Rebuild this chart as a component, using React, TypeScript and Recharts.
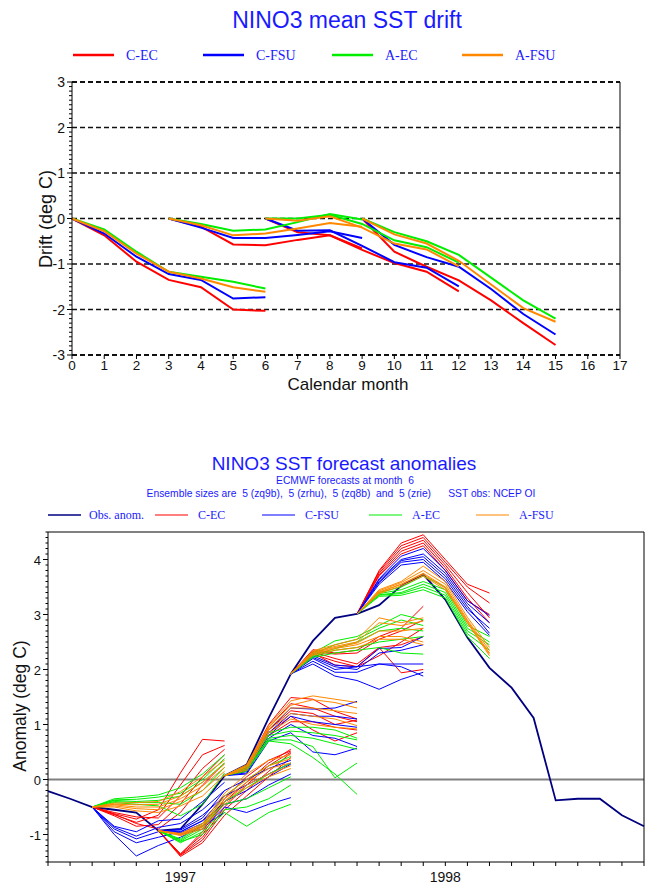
import React from "react";
import { LineChart, Line, XAxis, YAxis, ReferenceLine } from "recharts";

const SANS = '"Liberation Sans", Arial, Helvetica, sans-serif';
const SERIF = '"Liberation Serif", "Times New Roman", serif';
const TEXT_BLUE = "#1a1aff";

// ---------- top panel: NINO3 mean SST drift ----------
const driftMonths = [0, 1, 2, 3, 4, 5, 6, 7, 8, 9, 10, 11, 12, 13, 14, 15, 16, 17];
const driftGrid = [-3, -2, -1, 0, 1, 2, 3];
const driftStarts = [0, 3, 6, 9];

// one row per start month, values at lead 0..6
const driftCEC = [
  [0, -0.37, -0.95, -1.35, -1.51, -2.0, -2.03],
  [0, -0.18, -0.57, -0.59, -0.47, -0.37, -0.66],
  [0, -0.3, -0.37, -0.69, -0.98, -1.17, -1.6],
  [0, -0.73, -1.06, -1.36, -1.8, -2.3, -2.78],
];
const driftCFSU = [
  [0, -0.33, -0.84, -1.22, -1.35, -1.76, -1.73],
  [0, -0.2, -0.43, -0.43, -0.36, -0.28, -0.43],
  [0, -0.27, -0.26, -0.6, -0.96, -1.08, -1.49],
  [0, -0.58, -0.85, -1.06, -1.55, -2.1, -2.55],
];
const driftAEC = [
  [0, -0.24, -0.73, -1.17, -1.28, -1.39, -1.54],
  [0, -0.12, -0.27, -0.24, -0.08, 0.1, -0.02],
  [0, 0.0, 0.08, -0.12, -0.48, -0.63, -0.97],
  [0, -0.3, -0.5, -0.8, -1.3, -1.8, -2.2],
];
const driftAFSU = [
  [0, -0.28, -0.77, -1.17, -1.32, -1.51, -1.61],
  [0, -0.15, -0.37, -0.33, -0.22, -0.1, -0.18],
  [0, -0.05, 0.05, -0.2, -0.55, -0.68, -1.05],
  [0, -0.35, -0.55, -0.93, -1.45, -1.97, -2.27],
];

// ---------- bottom panel: NINO3 SST forecast anomalies ----------
// month index 0 = Jul 1996 ... 27 = Oct 1998
const anomMonths = [0, 1, 2, 3, 4, 5, 6, 7, 8, 9, 10, 11, 12, 13, 14, 15, 16, 17, 18, 19, 20, 21, 22, 23, 24, 25, 26, 27];
const yearTickIdx = [6, 18];
const yearLabels = ["1997", "1998"];
const anomYLabels = [-1, 0, 1, 2, 3, 4];

const obsAnom = [
  -0.21, -0.35, -0.5, -0.55, -0.6, -0.93, -0.9, -0.45, 0.07, 0.27, 1.12, 1.92, 2.52, 2.94,
  3.01, 3.17, 3.52, 3.73, 3.27, 2.58, 2.03, 1.67, 1.12, -0.38, -0.35, -0.35, -0.65, -0.85,
];

const fcStarts = [2, 5, 8, 11, 14];

// [start][member] -> values at lead 1..6 (lead 0 is the observed value)
const fcCEC = [
  [[-0.62, -0.72, -0.55, 0.12, 0.73, 0.7], [-0.64, -0.78, -0.65, -0.1, 0.45, 0.62], [-0.6, -0.68, -0.7, -0.3, 0.2, 0.55], [-0.66, -0.85, -0.82, -0.45, 0.05, 0.45], [-0.63, -0.8, -0.9, -0.6, -0.1, 0.3]],
  [[-1.35, -1.0, -0.4, -0.05, 0.3, 0.55], [-1.37, -1.05, -0.5, -0.1, 0.25, 0.5], [-1.38, -1.1, -0.55, -0.2, 0.15, 0.48], [-1.4, -1.15, -0.65, -0.3, 0.05, 0.4], [-1.36, -0.95, -0.35, 0.05, 0.35, 0.52]],
  [[0.25, 1.0, 1.49, 1.46, 1.24, 1.1], [0.22, 0.95, 1.38, 1.3, 1.15, 1.05], [0.2, 0.9, 1.25, 1.2, 1.0, 1.08], [0.18, 0.85, 1.15, 0.9, 0.7, 0.85], [0.15, 0.8, 1.05, 1.05, 0.95, 0.9]],
  [[2.36, 2.3, 2.35, 2.6, 2.75, 3.15], [2.33, 2.28, 2.3, 2.55, 2.7, 2.9], [2.3, 2.08, 2.05, 2.25, 2.5, 2.75], [2.28, 2.15, 2.05, 2.4, 2.45, 2.6], [2.32, 2.2, 2.1, 2.4, 1.94, 2.0]],
  [[3.8, 4.3, 4.45, 4.0, 3.55, 3.39], [3.78, 4.25, 4.4, 3.95, 3.5, 3.21], [3.75, 4.2, 4.35, 3.9, 3.4, 2.94], [3.72, 4.15, 4.3, 3.85, 3.3, 2.85], [3.7, 4.1, 4.25, 3.8, 3.25, 3.0]],
];
const fcCFSU = [
  [[-0.85, -0.95, -0.75, -0.72, -0.4, -0.05], [-0.87, -1.03, -0.87, -0.8, -0.55, -0.2], [-0.9, -1.08, -0.95, -0.9, -0.65, -0.3], [-0.95, -1.15, -1.05, -0.95, -0.75, -0.45], [-1.0, -1.39, -1.2, -1.05, -0.85, -0.6]],
  [[-0.92, -0.7, -0.2, 0.0, 0.2, 0.35], [-0.95, -0.75, -0.3, -0.1, 0.1, 0.3], [-0.97, -0.8, -0.4, -0.2, 0.05, 0.28], [-1.0, -0.85, -0.45, -0.35, -0.1, 0.1], [-1.0, -0.9, -0.5, -0.6, -0.45, -0.33]],
  [[0.2, 0.9, 1.3, 1.28, 1.3, 1.42], [0.18, 0.85, 1.2, 1.15, 1.15, 1.1], [0.15, 0.8, 1.15, 1.05, 1.0, 0.95], [0.12, 0.75, 1.0, 0.8, 0.75, 0.6], [0.1, 0.7, 0.85, 0.5, 0.45, 0.57]],
  [[2.25, 2.08, 2.05, 2.38, 2.4, 2.6], [2.22, 2.05, 2.0, 2.3, 2.35, 2.45], [2.2, 2.0, 2.05, 2.1, 2.1, 2.1], [2.15, 1.95, 1.95, 2.1, 2.05, 1.88], [2.1, 1.88, 1.8, 1.64, 1.82, 1.95]],
  [[3.65, 4.06, 4.2, 3.8, 3.25, 2.98], [3.63, 4.0, 4.1, 3.75, 3.2, 2.85], [3.6, 3.98, 4.05, 3.7, 3.15, 2.66], [3.58, 3.95, 4.0, 3.65, 3.1, 2.75], [3.55, 3.9, 3.95, 3.6, 3.05, 2.62]],
];
const fcAEC = [
  [[-0.35, -0.32, -0.28, -0.15, 0.1, 0.45], [-0.37, -0.36, -0.32, -0.25, 0.0, 0.38], [-0.38, -0.4, -0.38, -0.3, -0.05, 0.3], [-0.4, -0.42, -0.42, -0.45, -0.2, 0.22], [-0.42, -0.45, -0.48, -0.66, -0.45, 0.12]],
  [[-1.1, -0.85, -0.3, 0.0, 0.25, 0.42], [-1.12, -0.9, -0.4, -0.15, 0.1, 0.3], [-1.08, -0.8, -0.45, -0.35, -0.15, 0.05], [-1.15, -0.95, -0.55, -0.5, -0.35, -0.1], [-1.13, -1.0, -0.6, -0.85, -0.6, -0.45]],
  [[0.25, 0.85, 0.95, 0.95, 0.9, 0.75], [0.22, 0.8, 0.88, 0.85, 0.8, 0.72], [0.2, 0.75, 0.8, 0.75, 0.65, 0.55], [0.18, 0.72, 0.72, 0.6, 0.03, 0.3], [0.15, 0.7, 0.65, 0.4, 0.1, -0.27]],
  [[2.3, 2.52, 2.6, 2.8, 3.0, 2.9], [2.28, 2.45, 2.55, 2.75, 2.9, 2.8], [2.26, 2.38, 2.5, 2.7, 2.75, 2.7], [2.24, 2.35, 2.4, 2.5, 2.55, 2.6], [2.22, 2.3, 2.35, 2.4, 2.3, 2.28]],
  [[3.4, 3.5, 3.7, 3.5, 2.8, 2.6], [3.38, 3.45, 3.6, 3.45, 2.75, 2.5], [3.36, 3.4, 3.55, 3.4, 2.7, 2.45], [3.35, 3.38, 3.5, 3.35, 2.65, 2.35], [3.33, 3.35, 3.45, 3.3, 2.6, 2.2]],
];
const fcAFSU = [
  [[-0.43, -0.42, -0.4, -0.22, 0.05, 0.35], [-0.45, -0.46, -0.45, -0.3, -0.05, 0.28], [-0.46, -0.5, -0.5, -0.35, -0.12, 0.22], [-0.48, -0.53, -0.55, -0.4, -0.2, 0.15], [-0.5, -0.57, -0.6, -0.48, -0.3, 0.08]],
  [[-0.98, -0.8, -0.25, 0.1, 0.35, 0.45], [-0.99, -0.83, -0.3, 0.0, 0.25, 0.38], [-1.0, -0.85, -0.35, -0.05, 0.2, 0.3], [-1.01, -0.87, -0.4, -0.1, 0.1, 0.25], [-1.02, -0.9, -0.45, -0.15, 0.05, 0.2]],
  [[0.27, 0.98, 1.43, 1.52, 1.46, 1.4], [0.25, 0.95, 1.35, 1.45, 1.4, 1.3], [0.23, 0.92, 1.3, 1.3, 1.25, 1.2], [0.2, 0.9, 1.2, 1.15, 1.1, 0.98], [0.17, 0.85, 1.1, 1.0, 0.95, 0.92]],
  [[2.34, 2.45, 2.55, 2.94, 2.85, 2.94], [2.32, 2.42, 2.5, 2.85, 2.8, 2.88], [2.3, 2.4, 2.48, 2.7, 2.7, 2.75], [2.28, 2.38, 2.45, 2.6, 2.6, 2.5], [2.26, 2.35, 2.4, 2.55, 2.55, 2.45]],
  [[3.45, 3.6, 3.88, 3.6, 2.95, 2.4], [3.43, 3.58, 3.8, 3.55, 2.9, 2.35], [3.41, 3.55, 3.75, 3.5, 2.88, 2.3], [3.4, 3.55, 3.73, 3.48, 2.85, 2.28], [3.38, 3.52, 3.7, 3.45, 2.85, 2.25]],
];

const models = [
  { key: "cec", name: "C-EC", color: "#ff0000", drift: driftCEC, fc: fcCEC },
  { key: "cfsu", name: "C-FSU", color: "#0000ff", drift: driftCFSU, fc: fcCFSU },
  { key: "aec", name: "A-EC", color: "#00ee00", drift: driftAEC, fc: fcAEC },
  { key: "afsu", name: "A-FSU", color: "#ff8800", drift: driftAFSU, fc: fcAFSU },
];
const OBS_COLOR = "#000080";

// ---------- tables for recharts ----------
const driftRows = driftMonths.map((m) => {
  const row: Record<string, number> = { m };
  models.forEach((md) =>
    driftStarts.forEach((s, j) => {
      const i = m - s;
      if (i >= 0 && i < md.drift[j].length) row[`${md.key}${s}`] = md.drift[j][i];
    })
  );
  return row;
});

const anomRows = anomMonths.map((m) => {
  const row: Record<string, number> = { m, obs: obsAnom[m] };
  models.forEach((md) =>
    fcStarts.forEach((s, j) => {
      md.fc[j].forEach((member, k) => {
        const lead = m - s;
        if (lead === 0) row[`${md.key}_${j}_${k}`] = obsAnom[s];
        else if (lead > 0 && lead <= member.length) row[`${md.key}_${j}_${k}`] = member[lead - 1];
      });
    })
  );
  return row;
});

// minor ticks every 0.1
function tenths(lo: number, hi: number) {
  const out: number[] = [];
  for (let k = Math.round(lo * 10); k <= Math.round(hi * 10); k++) out.push(k / 10);
  return out;
}
const isMajor = (v: number) => Math.abs(v - Math.round(v)) < 1e-6;

// ---------- geometry ----------
const TOP_H = 400;
const D_LEFT = 72;
const D_BOTTOM = 355;

const BOT_TOP = 500;
const BOT_H = 388;
const A_LEFT = 48;
const A_RIGHT = 644;
const A_BOTTOM = 362; // chart coords

function DriftYTick(props: any) {
  const { y, payload } = props;
  const v = payload.value;
  const major = isMajor(v);
  return (
    <g>
      <line x1={D_LEFT - (major ? 5 : 3)} x2={D_LEFT} y1={y} y2={y} stroke="#000" />
      {major && (
        <text x={D_LEFT - 7} y={y + 5} textAnchor="end" fontSize={14} fontFamily={SANS} fill="#111">
          {Math.round(v)}
        </text>
      )}
    </g>
  );
}

function DriftXTick(props: any) {
  const { x, payload } = props;
  return (
    <g>
      <line x1={x} x2={x} y1={D_BOTTOM} y2={D_BOTTOM + 4} stroke="#000" />
      <text x={x} y={D_BOTTOM + 15} textAnchor="middle" fontSize={13.5} fontFamily={SANS} fill="#111">
        {payload.value}
      </text>
    </g>
  );
}

function AnomLeftTick(props: any) {
  const { y, payload } = props;
  const v = payload.value;
  const major = isMajor(v);
  return (
    <g>
      <line x1={A_LEFT - (major ? 5 : 2.5)} x2={A_LEFT} y1={y} y2={y} stroke="#000" />
      {major && anomYLabels.includes(Math.round(v)) && (
        <text x={A_LEFT - 7} y={y + 5} textAnchor="end" fontSize={13} fontFamily={SANS} fill="#111">
          {Math.round(v)}
        </text>
      )}
    </g>
  );
}

function AnomRightTick(props: any) {
  const { y, payload } = props;
  const v = payload.value;
  const major = isMajor(v);
  return (
    <g>
      <line x1={A_RIGHT} x2={A_RIGHT + (major ? 4 : 2.5)} y1={y} y2={y} stroke="#000" />
      {major && anomYLabels.includes(Math.round(v)) && (
        <text x={A_RIGHT + 5} y={y + 5} textAnchor="start" fontSize={13} fontFamily={SANS} fill="#111">
          {Math.round(v)}
        </text>
      )}
    </g>
  );
}

function AnomXTick(props: any) {
  const { x, payload } = props;
  const yi = yearTickIdx.indexOf(payload.value);
  return (
    <g>
      <line x1={x} x2={x} y1={A_BOTTOM} y2={A_BOTTOM + 4} stroke="#000" />
      {yi >= 0 && (
        <text x={x} y={A_BOTTOM + 20} textAnchor="middle" fontSize={14} fontFamily={SANS} fill="#111">
          {yearLabels[yi]}
        </text>
      )}
    </g>
  );
}

function DriftChart() {
  return (
    <LineChart
      width={661}
      height={TOP_H}
      data={driftRows}
      margin={{ top: 82, right: 41, left: 42, bottom: 15 }}
    >
      <XAxis
        type="number"
        dataKey="m"
        domain={[0, 17]}
        ticks={driftMonths}
        interval={0}
        tickLine={false}
        axisLine={false}
        tick={DriftXTick}
        height={30}
      />
      <YAxis
        type="number"
        domain={[-3, 3]}
        ticks={tenths(-3, 3)}
        interval={0}
        tickLine={false}
        axisLine={{ stroke: "#000" }}
        tick={DriftYTick}
        width={30}
      />
      {driftGrid.map((g) => (
        <ReferenceLine
          key={`g${g}`}
          y={g}
          stroke="#111"
          strokeWidth={Math.abs(g) === 3 ? 2 : 1.3}
          strokeDasharray="5 3"
        />
      ))}
      <ReferenceLine x={17} stroke="#000" strokeWidth={1} />
      {models.map((md) =>
        driftStarts.map((s) => (
          <Line
            key={`${md.key}${s}`}
            type="linear"
            dataKey={`${md.key}${s}`}
            stroke={md.color}
            strokeWidth={2}
            dot={false}
            activeDot={false}
            isAnimationActive={false}
          />
        ))
      )}
    </LineChart>
  );
}

function AnomalyChart() {
  return (
    <LineChart
      width={661}
      height={BOT_H}
      data={anomRows}
      margin={{ top: 32, right: 0, left: 18, bottom: 4 }}
    >
      <XAxis
        type="number"
        dataKey="m"
        domain={[0, 27]}
        ticks={anomMonths}
        interval={0}
        tickLine={false}
        axisLine={{ stroke: "#000" }}
        tick={AnomXTick}
        height={22}
      />
      <YAxis
        yAxisId="l"
        type="number"
        domain={[-1.5, 4.5]}
        ticks={tenths(-1.5, 4.5)}
        interval={0}
        tickLine={false}
        axisLine={{ stroke: "#000" }}
        tick={AnomLeftTick}
        width={30}
      />
      <YAxis
        yAxisId="r"
        orientation="right"
        type="number"
        domain={[-1.5, 4.5]}
        ticks={tenths(-1.5, 4.5)}
        interval={0}
        tickLine={false}
        axisLine={{ stroke: "#000" }}
        tick={AnomRightTick}
        width={17}
      />
      <ReferenceLine yAxisId="l" y={4.5} stroke="#808080" strokeWidth={2} />
      <ReferenceLine yAxisId="l" y={0} stroke="#808080" strokeWidth={2} />
      <Line
        yAxisId="l"
        type="linear"
        dataKey="obs"
        stroke={OBS_COLOR}
        strokeWidth={1.8}
        dot={false}
        activeDot={false}
        isAnimationActive={false}
      />
      {models.map((md) =>
        fcStarts.map((s, j) =>
          md.fc[j].map((_, k) => (
            <Line
              key={`${md.key}_${j}_${k}`}
              yAxisId="l"
              type="linear"
              dataKey={`${md.key}_${j}_${k}`}
              stroke={md.color}
              strokeWidth={1}
              dot={false}
              activeDot={false}
              isAnimationActive={false}
            />
          ))
        )
      )}
    </LineChart>
  );
}

function Overlay() {
  const topLegendX = [73, 203, 332, 462];
  const botLegendX = [155, 262, 369, 476];
  return (
    <svg
      width={661}
      height={888}
      style={{ position: "absolute", left: 0, top: 0, pointerEvents: "none" }}
    >
      {/* top panel */}
      <text x={347} y={28} textAnchor="middle" fontSize={23} fontFamily={SANS} fill={TEXT_BLUE}>
        NINO3 mean SST drift
      </text>
      {models.map((md, i) => (
        <g key={md.key}>
          <line x1={topLegendX[i]} x2={topLegendX[i] + 41} y1={55} y2={55} stroke={md.color} strokeWidth={2.5} />
          <text x={topLegendX[i] + 53} y={60} fontSize={14} fontFamily={SERIF} fill={TEXT_BLUE}>
            {md.name}
          </text>
        </g>
      ))}
      <text
        transform="translate(52,219) rotate(-90)"
        textAnchor="middle"
        fontSize={18}
        fontFamily={SANS}
        fill="#111"
      >
        Drift (deg C)
      </text>
      <text x={348} y={390} textAnchor="middle" fontSize={17} fontFamily={SANS} fill="#111">
        Calendar month
      </text>

      {/* bottom panel */}
      <text x={344} y={470} textAnchor="middle" fontSize={19} fontFamily={SANS} fill={TEXT_BLUE}>
        NINO3 SST forecast anomalies
      </text>
      <text x={345} y={484} textAnchor="middle" fontSize={10.3} fontFamily={SANS} fill={TEXT_BLUE} style={{ whiteSpace: "pre" }}>
        {"ECMWF forecasts at month  6"}
      </text>
      <text x={341} y={497} textAnchor="middle" fontSize={10.3} fontFamily={SANS} fill={TEXT_BLUE} style={{ whiteSpace: "pre" }}>
        {"Ensemble sizes are  5 (zq9b),  5 (zrhu),  5 (zq8b)  and  5 (zrie)      SST obs: NCEP OI"}
      </text>
      <line x1={48} x2={81} y1={515} y2={515} stroke={OBS_COLOR} strokeWidth={1.5} />
      <text x={89} y={519} fontSize={12} fontFamily={SERIF} fill={TEXT_BLUE}>
        Obs. anom.
      </text>
      {models.map((md, i) => (
        <g key={`b${md.key}`}>
          <line x1={botLegendX[i]} x2={botLegendX[i] + 33} y1={515} y2={515} stroke={md.color} strokeWidth={1.2} />
          <text x={botLegendX[i] + 43} y={519} fontSize={12} fontFamily={SERIF} fill={TEXT_BLUE}>
            {md.name}
          </text>
        </g>
      ))}
      <text
        transform="translate(26,706) rotate(-90)"
        textAnchor="middle"
        fontSize={17.5}
        fontFamily={SANS}
        fill="#111"
      >
        Anomaly (deg C)
      </text>
    </svg>
  );
}

export default function App() {
  return (
    <div style={{ position: "absolute", left: 0, top: 0, width: 661, height: 888, background: "#fff" }}>
      <div style={{ position: "absolute", left: 0, top: 0 }}>
        <DriftChart />
      </div>
      <div style={{ position: "absolute", left: 0, top: BOT_TOP }}>
        <AnomalyChart />
      </div>
      <Overlay />
    </div>
  );
}
